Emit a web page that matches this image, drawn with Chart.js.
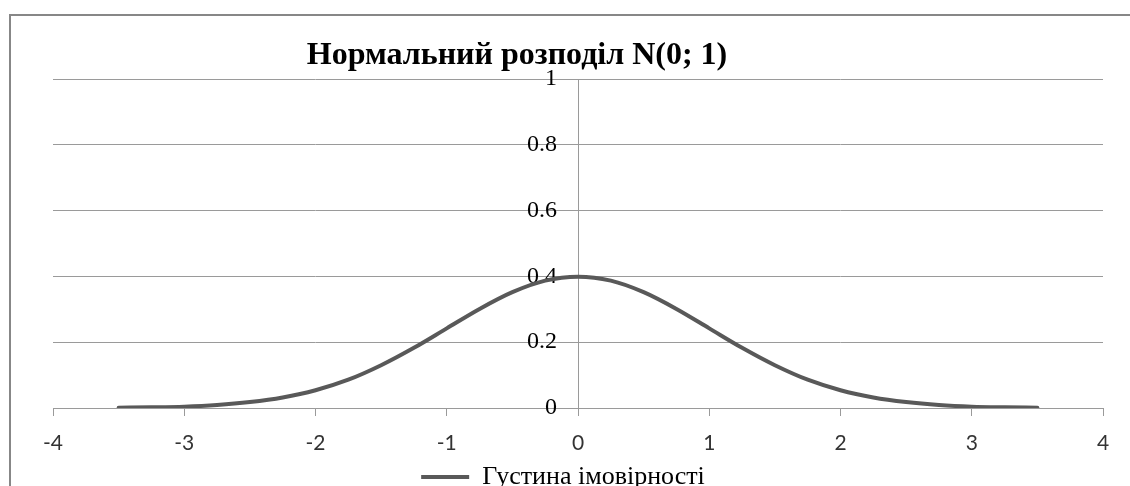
<!DOCTYPE html>
<html>
<head>
<meta charset="utf-8">
<script src="https://cdn.jsdelivr.net/npm/chart.js@4"></script>
<style>
  html, body { margin: 0; padding: 0; background: #fff; overflow: hidden; }
  #wrap { position: relative; width: 1130px; height: 500px; }
  #frame { position: absolute; left: 9px; top: 14px; width: 1300px; height: 700px; border: 2px solid #878787; box-sizing: border-box; }
  #chart { position: absolute; left: 0; top: 0; }
</style>
</head>
<body>
<div id="wrap">
  <div id="frame"></div>
  <canvas id="chart" width="1130" height="500"></canvas>
</div>
<script>
// values
const xValues = [-3.5, -3.25, -3, -2.75, -2.5, -2.25, -2, -1.75, -1.5, -1.25, -1, -0.75, -0.5, -0.25, 0,
                 0.25, 0.5, 0.75, 1, 1.25, 1.5, 1.75, 2, 2.25, 2.5, 2.75, 3, 3.25, 3.5];
const density = [0.001, 0.002, 0.004, 0.009, 0.018, 0.032, 0.054, 0.086, 0.130, 0.183, 0.242, 0.301, 0.352, 0.387, 0.399,
                 0.387, 0.352, 0.301, 0.242, 0.183, 0.130, 0.086, 0.054, 0.032, 0.018, 0.009, 0.004, 0.002, 0.001];
const xTicks = [-4, -3, -2, -1, 0, 1, 2, 3, 4];
const yTicks = [0, 0.2, 0.4, 0.6, 0.8, 1];
const titleText = 'Нормальний розподіл N(0; 1)';
const seriesName = 'Густина імовірності';

const lineColor = '#595959';
const gridColor = '#9a9a9a';

const points = xValues.map((x, i) => ({ x: x, y: density[i] }));

// excel-style title, sits off-centre over the plot
const titlePlugin = {
    id: 'excelTitle',
    afterDraw(chart) {
        const c = chart.ctx;
        c.save();
        c.font = 'bold 32px "Liberation Serif"';
        c.fillStyle = '#000';
        c.textAlign = 'center';
        c.textBaseline = 'alphabetic';
        c.fillText(titleText, 517, 64);
        c.restore();
    }
};

// y axis sits at x = 0, push its labels a bit left of the axis line
const yLabelShift = {
    id: 'yLabelShift',
    afterLayout(chart) {
        // legend is a little left of centre in the original
        chart.legend.left -= 15;
        chart.legend.right -= 15;
    },
    beforeDraw(chart) {
        const items = chart.scales.y.getLabelItems();
        if (items._shifted) return;
        items.forEach(it => { it.options.translation[0] -= 21; });
        items._shifted = true;
    }
};

const ctx = document.getElementById('chart').getContext('2d');

const chart = new Chart(ctx, {
    type: 'scatter',
    data: {
        datasets: [{
            label: seriesName,
            data: points,
            showLine: true,
            borderColor: lineColor,
            backgroundColor: lineColor,
            borderWidth: 4,
            borderCapStyle: 'round',
            pointRadius: 0,
            cubicInterpolationMode: 'monotone'
        }]
    },
    options: {
        responsive: false,
        animation: false,
        layout: { padding: { left: 53, right: 27, top: 79, bottom: 0 } },
        scales: {
            x: {
                type: 'linear',
                min: -4,
                max: 4,
                afterBuildTicks: (s) => { s.ticks = xTicks.map(v => ({ value: v })); },
                afterFit: (s) => { s.height = 50; },
                grid: { drawOnChartArea: false, drawTicks: true, tickLength: 8, color: gridColor },
                border: { color: gridColor },
                ticks: {
                    color: '#333',
                    padding: 15,
                    font: { family: 'Lato', size: 21 },
                    callback: (v) => String(v)
                }
            },
            y: {
                type: 'linear',
                position: { x: 0 },
                min: 0,
                max: 1,
                afterBuildTicks: (s) => { s.ticks = yTicks.map(v => ({ value: v })); },
                grid: { color: gridColor, drawTicks: false },
                border: { color: gridColor },
                ticks: {
                    color: '#000',
                    font: { family: 'Liberation Serif', size: 24 },
                    callback: (v) => String(+v.toFixed(1))
                }
            }
        },
        plugins: {
            title: { display: false },
            tooltip: { enabled: false },
            legend: {
                display: true,
                position: 'bottom',
                labels: {
                    color: '#000',
                    boxWidth: 48,
                    boxHeight: 4,
                    padding: 6,
                    font: { family: 'Liberation Serif', size: 26 },
                    generateLabels: (ch) => Chart.defaults.plugins.legend.labels.generateLabels(ch)
                        .map(l => Object.assign(l, { lineWidth: 0, fillStyle: lineColor }))
                }
            }
        }
    },
    plugins: [titlePlugin, yLabelShift]
});
</script>
</body>
</html>
